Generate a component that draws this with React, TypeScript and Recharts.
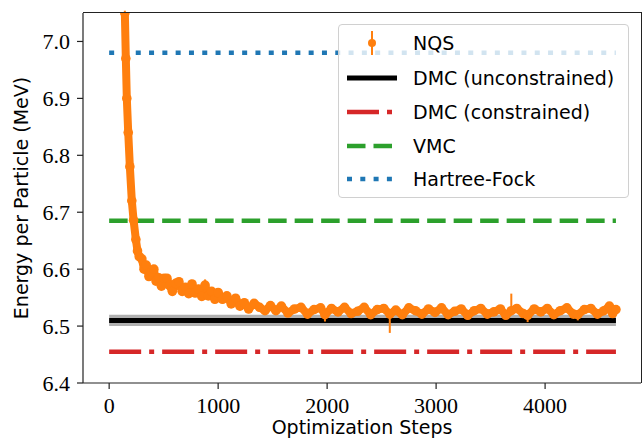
import React from 'react';
import { ComposedChart, Line, Area, XAxis, YAxis, ErrorBar } from 'recharts';

// NQS training curve
const nqsSteps = [
  0, 60, 100, 125, 144, 153, 162, 175, 190, 208, 224, 245, 260, 276, 300, 320, 340, 365, 390, 410,
  430, 455, 480, 505, 530, 555, 580, 610, 640, 670, 700, 730, 760, 790, 820, 850, 880, 910, 940, 970,
  1000, 1040, 1080, 1120, 1160, 1200, 1240, 1280, 1330, 1380, 1430, 1480, 1530, 1580, 1640, 1700,
  1760, 1820, 1880, 1940, 1980, 2040, 2100, 2160, 2220, 2280, 2340, 2400, 2460, 2520, 2575, 2630,
  2690, 2750, 2810, 2870, 2930, 2990, 3050, 3110, 3170, 3230, 3290, 3350, 3410, 3470, 3530, 3590,
  3640, 3690, 3740, 3800, 3840, 3900, 3960, 4020, 4080, 4140, 4200, 4260, 4300, 4360, 4420, 4480,
  4540, 4590, 4620, 4650,
];
const nqsEnergy = [
  8.6, 7.7, 7.3, 7.12, 7.05, 6.97, 6.9, 6.84, 6.78, 6.72, 6.686, 6.652, 6.632, 6.622,
  6.618, 6.6, 6.607, 6.587, 6.596, 6.6, 6.579, 6.585, 6.57, 6.584, 6.584, 6.571, 6.561, 6.575,
  6.578, 6.561, 6.568, 6.557, 6.574, 6.558, 6.565, 6.552, 6.572, 6.553, 6.561, 6.547, 6.559, 6.547,
  6.553, 6.539, 6.549, 6.535, 6.541, 6.53, 6.54, 6.533, 6.527, 6.536, 6.527, 6.535, 6.523, 6.53,
  6.533, 6.521, 6.529, 6.532, 6.52, 6.531, 6.525, 6.533, 6.522, 6.526, 6.533, 6.52, 6.529, 6.531,
  6.521, 6.528, 6.52, 6.532, 6.527, 6.521, 6.53, 6.524, 6.532, 6.52, 6.526, 6.53, 6.519, 6.527,
  6.531, 6.521, 6.525, 6.53, 6.519, 6.527, 6.531, 6.522, 6.519, 6.53, 6.525, 6.531, 6.52, 6.527,
  6.532, 6.521, 6.52, 6.529, 6.531, 6.521, 6.527, 6.535, 6.522, 6.529,
];
const nqsErr = 0.004;
const nqsSpikes = [
  { step: 880, low: 0.004, high: 0.01 },
  { step: 1980, low: 0.012, high: 0.004 },
  { step: 2575, low: 0.033, high: 0.004 },
  { step: 3690, low: 0.004, high: 0.03 },
  { step: 3840, low: 0.012, high: 0.004 },
  { step: 4300, low: 0.01, high: 0.004 },
];

// reference energies
const refSpan = [0, 4650];
const hartreeFock = 6.98;
const vmc = 6.685;
const dmcUnconstrained = 6.51;
const dmcBand = [6.5, 6.52];
const dmcConstrained = 6.455;

const xDomain = [-240, 4880];
const yDomain = [6.4, 7.05];
const xTicks = [0, 1000, 2000, 3000, 4000];
const yTicks = [6.4, 6.5, 6.6, 6.7, 6.8, 6.9, 7.0];

const legendItems = ['NQS', 'DMC (unconstrained)', 'DMC (constrained)', 'VMC', 'Hartree-Fock'];

const ORANGE = '#ff7f0e';
const BLACK = '#000000';
const RED = '#d62728';
const GREEN = '#2ca02c';
const BLUE = '#1f77b4';
const SPINE = { stroke: '#222', strokeWidth: 1.2 };

const nqsData = nqsSteps.map((x, i) => {
  const s = nqsSpikes.find(p => p.step === x);
  return { x, y: nqsEnergy[i], err: s ? [s.low, s.high] : [nqsErr, nqsErr] };
});
const flat = (v: number) => refSpan.map(x => ({ x, y: v }));
const bandData = refSpan.map(x => ({ x, band: dmcBand }));

const sans = 'DejaVu Sans';
const serif = 'Liberation Serif';

const YLabel = (props: any) => {
  const vb = props.viewBox || { y: 13, height: 370 };
  const cx = 21;
  const cy = vb.y + vb.height / 2;
  return (
    <text
      x={cx}
      y={cy}
      transform={`rotate(-90, ${cx}, ${cy})`}
      textAnchor="middle"
      dominantBaseline="central"
      fontFamily={sans}
      fontSize={19}
      fill="#000"
    >
      Energy per Particle (MeV)
    </text>
  );
};

const Handle = ({ i }: { i: number }) => {
  const w = 50;
  return (
    <svg width={w} height={30} style={{ display: 'block' }}>
      {i === 0 && (
        <g>
          <line x1={25} x2={25} y1={3} y2={27} stroke={ORANGE} strokeWidth={2} />
          <circle cx={25} cy={15} r={4} fill={ORANGE} />
        </g>
      )}
      {i === 1 && <line x1={0} x2={w} y1={15} y2={15} stroke={BLACK} strokeWidth={5} />}
      {i === 2 && (
        <line x1={0} x2={w} y1={15} y2={15} stroke={RED} strokeWidth={4.5} strokeDasharray="32 8 5 8" />
      )}
      {i === 3 && (
        <line x1={0} x2={w} y1={15} y2={15} stroke={GREEN} strokeWidth={4.5} strokeDasharray="18.5 8" />
      )}
      {i === 4 && (
        <line x1={0} x2={w} y1={15} y2={15} stroke={BLUE} strokeWidth={4.5} strokeDasharray="5 8.3" />
      )}
    </svg>
  );
};

const App: React.FC = () => {
  return (
    <div style={{ position: 'absolute', left: 0, top: 0, width: 644, height: 440, background: '#fff' }}>
      <ComposedChart width={644} height={440} margin={{ top: 13, right: 3, left: 0, bottom: 0 }}>
        <XAxis
          dataKey="x"
          type="number"
          domain={xDomain}
          allowDataOverflow
          ticks={xTicks}
          interval={0}
          height={57}
          tickSize={6}
          tickMargin={8}
          axisLine={SPINE}
          tickLine={SPINE}
          tick={{ fill: '#000', fontSize: 22, fontFamily: serif }}
          label={{
            value: 'Optimization Steps',
            position: 'insideBottom',
            offset: 6,
            style: { fontFamily: sans, fontSize: 19, fill: '#000' },
          }}
        />
        <YAxis
          type="number"
          domain={yDomain}
          allowDataOverflow
          ticks={yTicks}
          interval={0}
          width={83}
          tickSize={6}
          tickMargin={7}
          tickFormatter={(v: number) => v.toFixed(1)}
          axisLine={SPINE}
          tickLine={SPINE}
          tick={{ fill: '#000', fontSize: 22, fontFamily: serif }}
          label={<YLabel />}
        />
        <Area
          data={bandData}
          dataKey="band"
          type="linear"
          stroke="none"
          fill="#b0b0b0"
          fillOpacity={1}
          isAnimationActive={false}
          activeDot={false}
          legendType="none"
        />
        <Line data={flat(dmcUnconstrained)} dataKey="y" stroke={BLACK} strokeWidth={5} dot={false} isAnimationActive={false} />
        <Line data={flat(dmcConstrained)} dataKey="y" stroke={RED} strokeWidth={4.5} strokeDasharray="32 8 5 8" dot={false} isAnimationActive={false} />
        <Line data={flat(vmc)} dataKey="y" stroke={GREEN} strokeWidth={4.5} strokeDasharray="18.5 8" dot={false} isAnimationActive={false} />
        <Line data={flat(hartreeFock)} dataKey="y" stroke={BLUE} strokeWidth={4.5} strokeDasharray="5 8.3" dot={false} isAnimationActive={false} />
        <Line
          data={nqsData}
          dataKey="y"
          type="linear"
          stroke={ORANGE}
          strokeWidth={8}
          strokeLinejoin="round"
          dot={{ r: 4.8, fill: ORANGE, stroke: 'none' }}
          activeDot={false}
          isAnimationActive={false}
        >
          <ErrorBar dataKey="err" direction="y" width={0} stroke={ORANGE} strokeWidth={2} />
        </Line>
      </ComposedChart>
      {/* top and right spines of the plot box */}
      <div
        style={{
          position: 'absolute',
          left: 83,
          top: 12.4,
          width: 559,
          height: 371,
          boxSizing: 'border-box',
          borderTop: '1.2px solid #222',
          borderRight: '1.2px solid #222',
          pointerEvents: 'none',
        }}
      />
      <div
        style={{
          position: 'absolute',
          left: 338,
          top: 24,
          width: 289,
          height: 172,
          border: '1px solid #d0d0d0',
          borderRadius: 4,
          background: 'rgba(255,255,255,0.8)',
          fontFamily: sans,
          fontSize: 19,
          color: '#000',
        }}
      >
        {legendItems.map((name, i) => (
          <div
            key={name}
            style={{
              position: 'absolute',
              left: 8,
              top: [3, 38, 72, 106, 139][i],
              height: 30,
              display: 'flex',
              alignItems: 'center',
              whiteSpace: 'nowrap',
            }}
          >
            <Handle i={i} />
            <span style={{ marginLeft: 16, lineHeight: '30px' }}>{name}</span>
          </div>
        ))}
      </div>
    </div>
  );
};

export default App;
